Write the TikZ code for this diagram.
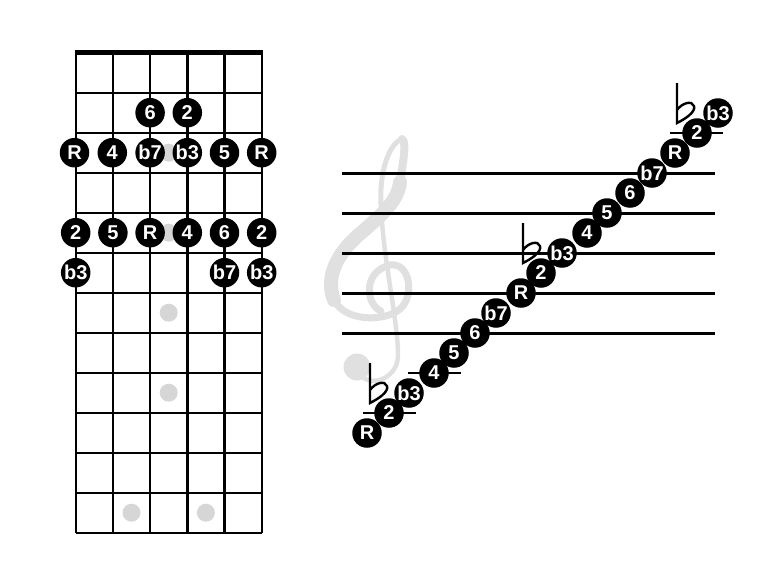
\documentclass[tikz,border=0pt]{standalone}
\usepackage{fontspec}
\setmainfont{Liberation Sans}
\definecolor{clefgray}{RGB}{224,224,224}
\definecolor{dotgray}{RGB}{214,214,214}
\begin{document}
\begin{tikzpicture}[x=1pt,y=-1pt,
  fretline/.style={line width=2.4pt,black},
  nutline/.style={line width=4.5pt,black},
  staffline/.style={line width=2.4pt,black},
  ledger/.style={line width=2pt,black},
  note/.style={circle,fill=black,text=white,minimum size=29.5pt,inner sep=0pt,
    font=\bfseries\fontsize{20}{20}\selectfont},
  gdot/.style={circle,fill=dotgray,minimum size=18pt,inner sep=0pt},
  clefstroke/.style={clefgray,line cap=round,line join=round},
  flatsym/.pic={\draw[line width=2.4pt,line cap=butt]
      (0,-30) -- (0,10) .. controls (8,6) and (19,-1) .. (17,-7)
      .. controls (15,-13) and (5,-10) .. (0,-3);}
]
\useasboundingbox (0,0) rectangle (784,560);

% ---------- fretboard ----------
\foreach \k in {1,...,12}
  \draw[fretline] (75.7,{52.7+40*\k}) -- (261.7,{52.7+40*\k});
\foreach \x in {75.7,112.9,150.1,187.3,224.5,261.7}
  \draw[fretline] (\x,52.7) -- (\x,532.7);
\draw[nutline] (74.5,52.7) -- (262.9,52.7);

% inlay dots
\node[gdot] (d3)  at (168.7,152.7) {};
\node[gdot] (d5)  at (168.7,232.7) {};
\node[gdot] (d7)  at (168.7,312.7) {};
\node[gdot] (d9)  at (168.7,392.7) {};
\node[gdot] (d12a) at (131.5,512.7) {};
\node[gdot] (d12b) at (205.9,512.7) {};

% scale notes on the fretboard
\node[note] (a1) at (150.1,112.7) {6};
\node[note] (a2) at (187.3,112.7) {2};
\node[note] (b1) at (74.5,152.7) {R};
\node[note] (b2) at (112.3,152.7) {4};
\node[note] (b3) at (150.1,152.7) {b7};
\node[note] (b4) at (187.3,152.7) {b3};
\node[note] (b5) at (224.5,152.7) {5};
\node[note] (b6) at (261.7,152.7) {R};
\node[note] (c1) at (75.7,232.7) {2};
\node[note] (c2) at (112.9,232.7) {5};
\node[note] (c3) at (150.1,232.7) {R};
\node[note] (c4) at (187.3,232.7) {4};
\node[note] (c5) at (224.5,232.7) {6};
\node[note] (c6) at (261.7,232.7) {2};
\node[note] (e1) at (75.7,272.7) {b3};
\node[note] (e5) at (224.5,272.7) {b7};
\node[note] (e6) at (261.7,272.7) {b3};

% ---------- treble clef (light gray) ----------
% inner curl, top and right side, bottom of the lower loop
\draw[clefstroke,line width=7pt]
  (381,311) .. controls (366,305) and (362,272) .. (390,265)
  .. controls (410,262) and (415,296) .. (400,309)
  .. controls (385,322) and (345,322) .. (334,300);
% thick left side and diagonal band
\draw[clefstroke,line width=14pt]
  (334,300) .. controls (324,275) and (340,250) .. (362,232)
  .. controls (385,212) and (398,200) .. (400,182);
% right side of the upper loop up to the tip
\draw[clefstroke,line width=8pt]
  (400,182) .. controls (403,162) and (407,142) .. (402,139);
% left side of the upper loop
\draw[clefstroke,line width=5pt]
  (402,139) .. controls (392,142) and (379,165) .. (381,205);
% stem and hook
\draw[clefstroke,line width=4.5pt]
  (381,205) .. controls (383,260) and (398,320) .. (398,355)
  .. controls (398,378) and (372,388) .. (360,375);
\fill[clefgray] (357,367) circle (13.5);

% ---------- staff ----------
\foreach \y in {173.3,213.3,253.3,293.3,333.3}
  \draw[staffline] (342,\y) -- (715,\y);
\draw[ledger] (363,413.3) -- (416,413.3);
\draw[ledger] (408,373.3) -- (461,373.3);
\draw[ledger] (670,133.3) -- (723,133.3);

% flats
\pic at (370,393) {flatsym};
\pic at (523,253) {flatsym};
\pic at (677,113) {flatsym};

% scale notes on the staff
\node[note] (s1)  at (367,433) {R};
\node[note] (s2)  at (389,413) {2};
\node[note] (s3)  at (409,393) {b3};
\node[note] (s4)  at (434,373) {4};
\node[note] (s5)  at (454,353) {5};
\node[note] (s6)  at (475,333) {6};
\node[note] (s7)  at (496,313) {b7};
\node[note] (s8)  at (521,293) {R};
\node[note] (s9)  at (541,273) {2};
\node[note] (s10) at (562,253) {b3};
\node[note] (s11) at (587,233) {4};
\node[note] (s12) at (607,213) {5};
\node[note] (s13) at (630,193) {6};
\node[note] (s14) at (652,173) {b7};
\node[note] (s15) at (675,153) {R};
\node[note] (s16) at (697,133) {2};
\node[note] (s17) at (718,113) {b3};
\end{tikzpicture}
\end{document}
